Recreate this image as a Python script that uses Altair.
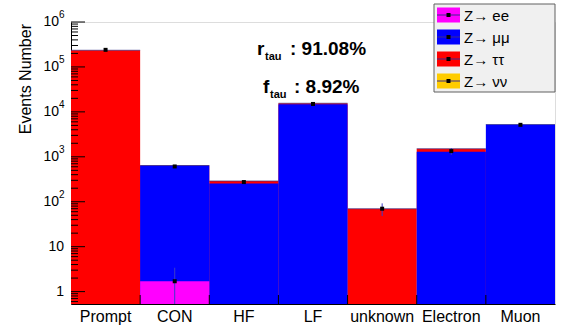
import altair as alt
import pandas as pd

# ---------------- data ----------------
categories = ["Prompt", "CON", "HF", "LF", "unknown", "Electron", "Muon"]
series_names = ["Z\u2192 ee", "Z\u2192 \u03bc\u03bc", "Z\u2192 \u03c4\u03c4", "Z\u2192 \u03bd\u03bd"]
series_colors = ["#ff00ff", "#0000ff", "#ff0000", "#ffcc00"]

z_ee = [0, 1.7, 0, 0, 0, 0, 0]
z_mumu = [0, 635, 255, 14800, 0, 1290, 5220]
z_tautau = [235000, 6, 33, 800, 70, 215, 0]
z_nunu = [0, 0, 0, 0, 0, 0, 0]

pt_cat = ["Prompt", "CON", "CON", "HF", "LF", "unknown", "Electron", "Muon"]
pt_val = [240000, 610, 1.7, 274, 15000, 70, 1340, 5150]
pt_err = [2500, 25, 1.7, 9, 500, 22, 230, 90]

major_ticks = [1, 10, 100, 1000, 10000, 100000, 1000000]
tick_bases = ["1", "10", "10", "10", "10", "10", "10"]
tick_exponents = ["", "", "2", "3", "4", "5", "6"]

annot_names = ["r", "f"]
annot_sub = ["tau", "tau"]
annot_values = [": 91.08%", ": 8.92%"]

# ---------------- layout ----------------
W, H = 484, 282
PAD = {"left": 71, "top": 22, "right": 10, "bottom": 25}
FONT = "Liberation Sans"
Y_MIN, Y_MAX = 0.53, 1e6
BAND = W / len(categories)

yscale = alt.Scale(type="log", domain=[Y_MIN, Y_MAX], nice=False)
xscale = alt.Scale(domain=categories, paddingInner=0, paddingOuter=0)

# stacked cumulative tops
rows = []
totals = []
for i, c in enumerate(categories):
    cum = 0.0
    for j, arr in enumerate([z_ee, z_mumu, z_tautau, z_nunu]):
        cum += arr[i]
        if arr[i] > 0:
            rows.append({"cat": c, "series": series_names[j], "top": cum, "draw": -j})
    totals.append({"cat": c, "total": cum})
stack_df = pd.DataFrame(rows)
tot_df = pd.DataFrame(totals)

pts = pd.DataFrame({"cat": pt_cat, "val": pt_val, "err": pt_err})
pts["lo"] = (pts["val"] - pts["err"]).clip(lower=0.01)
pts["hi"] = pts["val"] + pts["err"]

bars = alt.Chart(stack_df).mark_bar(clip=True, strokeWidth=0).encode(
    x=alt.X("cat:N", scale=xscale, sort=categories,
            axis=alt.Axis(title=None, labelFontSize=16, labelFont=FONT, labelColor="black",
                          ticks=False, domainColor="black", labelPadding=4, labelAngle=0,
                          grid=False)),
    y=alt.Y("top:Q", scale=yscale, stack=None,
            axis=alt.Axis(title=None, labels=False, ticks=False, grid=False, domainColor="black")),
    y2=alt.value(H),
    color=alt.Color("series:N", scale=alt.Scale(domain=series_names, range=series_colors), legend=None),
    order=alt.Order("draw:Q"),
)

outline = alt.Chart(tot_df).mark_tick(orient="horizontal", thickness=1, size=BAND,
                                       color="#30308a", clip=True).encode(
    x=alt.X("cat:N", scale=xscale, sort=categories),
    y=alt.Y("total:Q", scale=yscale),
)

err = alt.Chart(pts).mark_rule(color="#3c3cc8", clip=True, strokeWidth=1).encode(
    x=alt.X("cat:N", scale=xscale, sort=categories),
    y=alt.Y("lo:Q", scale=yscale),
    y2="hi:Q",
)
markers = alt.Chart(pts).mark_square(size=16, color="black", opacity=1, clip=True).encode(
    x=alt.X("cat:N", scale=xscale, sort=categories),
    y=alt.Y("val:Q", scale=yscale),
)

# x ticks at bin edges (inside)
edge_df = pd.DataFrame({"cat": categories[1:]})
xticks = alt.Chart(edge_df).mark_rule(color="black").encode(
    x=alt.X("cat:N", scale=xscale, sort=categories, bandPosition=0),
    y=alt.value(H - 9),
    y2=alt.value(H),
)

# y ticks (inside)
minor_vals = []
for k in range(-1, 6):
    for m in range(2, 10):
        v = m * (10.0 ** k)
        if Y_MIN <= v <= Y_MAX:
            minor_vals.append(v)
maj_df = pd.DataFrame({"v": major_ticks})
min_df = pd.DataFrame({"v": minor_vals})
ymaj = alt.Chart(maj_df).mark_rule(color="black").encode(
    x=alt.value(0), x2=alt.value(14), y=alt.Y("v:Q", scale=yscale))
ymin = alt.Chart(min_df).mark_rule(color="black").encode(
    x=alt.value(0), x2=alt.value(7), y=alt.Y("v:Q", scale=yscale))

lab_df = pd.DataFrame({"v": major_ticks, "base": tick_bases, "exp": tick_exponents})
plain_lab = alt.Chart(lab_df[lab_df["exp"] == ""]).mark_text(
    align="right", baseline="middle", fontSize=14, font=FONT, color="black").encode(
    x=alt.value(-7), y=alt.Y("v:Q", scale=yscale), text="base:N")
pow_lab = alt.Chart(lab_df[lab_df["exp"] != ""]).mark_text(
    align="right", baseline="middle", fontSize=14, font=FONT, color="black").encode(
    x=alt.value(-12), y=alt.Y("v:Q", scale=yscale), text="base:N")
exp_lab = alt.Chart(lab_df[lab_df["exp"] != ""]).mark_text(
    align="left", baseline="middle", fontSize=10, font=FONT, color="black", dy=-7).encode(
    x=alt.value(-12), y=alt.Y("v:Q", scale=yscale), text="exp:N")

dummy = pd.DataFrame({"d": [0]})
ytitle = alt.Chart(dummy).mark_text(angle=270, align="right", baseline="alphabetic",
                                    fontSize=16, font=FONT, color="black").encode(
    x=alt.value(-40), y=alt.value(2), text=alt.value("Events Number"))

# annotations
annot_layers = []
ann_x = [186, 192]
ann_sub_x = [194, 199]
ann_val_x = [219, 223]
ann_y = [33, 71]
for i in range(2):
    annot_layers.append(alt.Chart(dummy).mark_text(
        align="left", baseline="alphabetic", fontSize=19, fontWeight="bold", font=FONT, color="black").encode(
        x=alt.value(ann_x[i]), y=alt.value(ann_y[i]), text=alt.value(annot_names[i])))
    annot_layers.append(alt.Chart(dummy).mark_text(
        align="left", baseline="alphabetic", fontSize=11, fontWeight="bold", font=FONT, color="black").encode(
        x=alt.value(ann_sub_x[i]), y=alt.value(ann_y[i] + 5), text=alt.value(annot_sub[i])))
    annot_layers.append(alt.Chart(dummy).mark_text(
        align="left", baseline="alphabetic", fontSize=19, fontWeight="bold", font=FONT, color="black").encode(
        x=alt.value(ann_val_x[i]), y=alt.value(ann_y[i]), text=alt.value(annot_values[i])))

# legend (manual, ROOT-style box)
leg_layers = [alt.Chart(dummy).mark_rect(fill="#f0f0f0", stroke="#606060", strokeWidth=1).encode(
    x=alt.value(363), x2=alt.value(484), y=alt.value(-18), y2=alt.value(70))]
for i, (name, col) in enumerate(zip(series_names, series_colors)):
    yc = -7 + 22 * i
    leg_layers.append(alt.Chart(dummy).mark_rect(fill=col).encode(
        x=alt.value(366), x2=alt.value(389), y=alt.value(yc - 7.5), y2=alt.value(yc + 7.5)))
    leg_layers.append(alt.Chart(dummy).mark_rule(color="#3a2a8a").encode(
        x=alt.value(366), x2=alt.value(389), y=alt.value(yc)))
    leg_layers.append(alt.Chart(dummy).mark_square(size=16, color="black", opacity=1).encode(
        x=alt.value(377.5), y=alt.value(yc)))
    leg_layers.append(alt.Chart(dummy).mark_text(
        align="left", baseline="middle", fontSize=15, font=FONT, color="black").encode(
        x=alt.value(393), y=alt.value(yc + 1), text=alt.value(name)))

chart = alt.layer(
    bars, outline, err, markers, xticks, ymaj, ymin,
    plain_lab, pow_lab, exp_lab, ytitle, *annot_layers, *leg_layers
).properties(
    width=W, height=H, padding=PAD, autosize=alt.AutoSizeParams(type="none")
).configure_view(stroke="#444444", strokeWidth=1).configure(background="white")

chart.save("out.html", embed_options={"renderer": "svg", "actions": False})
